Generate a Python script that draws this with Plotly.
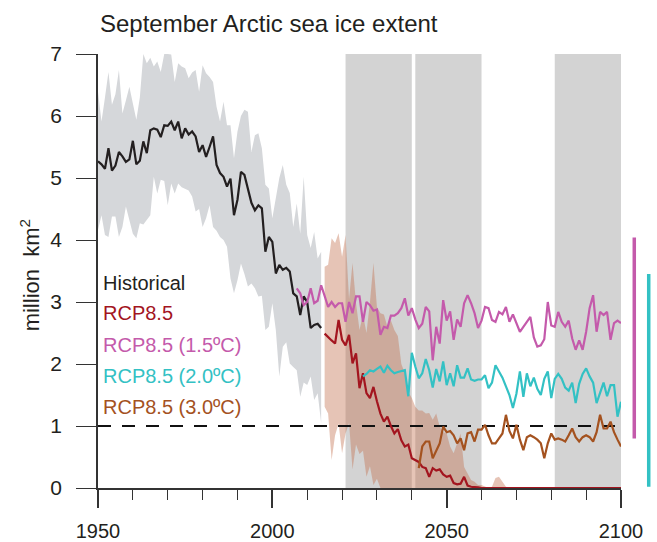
import plotly.graph_objects as go

# ---------------- data ----------------
hist_start = 1950
hist_mean = [5.27, 5.22, 5.15, 5.48, 5.12, 5.20, 5.42, 5.35, 5.26, 5.30,
             5.60, 5.22, 5.28, 5.59, 5.40, 5.77, 5.80, 5.78, 5.66, 5.85,
             5.84, 5.91, 5.77, 5.91, 5.64, 5.80, 5.70, 5.75, 5.67, 5.42,
             5.53, 5.34, 5.50, 5.67, 5.21, 5.08, 5.02, 4.86, 4.99, 4.40,
             4.65, 5.10, 5.05, 4.80, 4.60, 4.48, 4.56, 4.51, 3.81, 4.05,
             3.97, 3.46, 3.60, 3.52, 3.55, 3.49, 3.14, 3.09, 2.79, 3.09,
             3.00, 2.58, 2.63, 2.65, 2.58]
hist_upper = [6.39, 5.91, 6.30, 6.71, 6.18, 6.35, 6.74, 6.04, 6.25, 6.47,
              6.20, 5.94, 6.30, 7.00, 6.85, 6.94, 6.80, 6.88, 6.71, 7.00,
              7.00, 6.99, 6.55, 6.85, 6.80, 6.77, 6.61, 6.70, 6.74, 6.39,
              6.82, 6.69, 6.63, 6.55, 6.15, 5.91, 6.23, 5.85, 5.85, 5.32,
              5.75, 6.00, 6.10, 6.07, 5.42, 5.69, 5.72, 5.48, 4.89, 4.83,
              4.35, 4.70, 5.00, 5.21, 4.89, 4.76, 4.21, 4.59, 4.10, 5.02,
              4.08, 3.87, 4.13, 3.70, 3.81]
hist_lower = [4.16, 4.40, 4.08, 4.05, 4.38, 4.38, 4.05, 4.21, 4.54, 4.30,
              4.10, 4.03, 4.27, 4.25, 4.32, 4.40, 5.02, 4.75, 4.97, 4.95,
              4.56, 4.91, 4.75, 4.91, 4.85, 4.83, 4.80, 4.70, 4.46, 4.50,
              4.21, 4.35, 4.56, 4.21, 4.15, 4.05, 4.00, 3.89, 3.38, 3.14,
              3.35, 3.62, 3.45, 3.25, 3.30, 3.22, 3.09, 3.10, 2.55, 2.60,
              2.98, 2.55, 1.80, 2.28, 2.35, 2.01, 1.95, 1.90, 1.47, 1.70,
              1.66, 1.80, 1.42, 1.53, 1.05]

rcp_start = 2015
rcp_mean = [2.49, 2.43, 2.38, 2.33, 2.71, 2.39, 2.30, 2.47, 2.01, 2.17,
            1.61, 1.85, 1.53, 1.45, 1.63, 1.40, 1.20, 1.07, 1.15, 1.00,
            0.88, 0.95, 0.77, 0.67, 0.70, 0.48, 0.45, 0.42, 0.34, 0.32,
            0.18, 0.32, 0.28, 0.30, 0.22, 0.18, 0.20, 0.08, 0.06, 0.07,
            0.18, 0.04, 0.02, 0.02, 0.01, 0.00, 0.00, 0.00, 0.00, 0.00,
            0.00, 0.00, 0.00, 0.00, 0.00, 0.00, 0.00, 0.00, 0.00, 0.00,
            0.00, 0.00, 0.00, 0.00, 0.00, 0.00, 0.00, 0.00, 0.00, 0.00,
            0.00, 0.00, 0.00, 0.00, 0.00, 0.00, 0.00, 0.00, 0.00, 0.00,
            0.00, 0.00, 0.00, 0.00, 0.00, 0.00]
rcp_upper = [3.57, 3.60, 4.03, 3.95, 4.11, 3.73, 4.08, 3.05, 3.63, 2.98,
             2.55, 2.80, 2.50, 3.00, 3.63, 2.92, 2.82, 2.80, 2.60, 2.70,
             2.55, 2.45, 2.00, 1.85, 1.55, 1.45, 1.31, 1.25, 1.25, 1.20,
             1.21, 1.10, 1.20, 0.99, 0.90, 0.88, 0.67, 0.56, 0.72, 0.88,
             0.34, 0.24, 0.13, 0.10, 0.05, 0.05, 0.02, 0.00, 0.02, 0.16,
             0.18, 0.10, 0.02, 0.00]
rcp_lower = [1.31, 1.20, 0.45, 0.85, 1.04, 0.56, 0.88, 1.05, 0.30, 0.70,
             0.55, 0.60, 0.18, 0.35, 0.05, 0.15, 0.00, 0.00, 0.00, 0.00,
             0.00, 0.00, 0.00, 0.00, 0.00, 0.00, 0.00, 0.00, 0.00, 0.00,
             0.00, 0.00, 0.00, 0.00, 0.00, 0.00, 0.00, 0.00, 0.00, 0.00,
             0.00, 0.00, 0.00, 0.00, 0.00, 0.00, 0.00, 0.00, 0.00, 0.00,
             0.00, 0.00, 0.00, 0.00]

s15_start = 2007
s15 = [3.22, 3.14, 2.95, 3.00, 3.22, 2.98, 3.02, 3.27, 3.10, 2.92,
       3.00, 2.92, 2.98, 2.98, 2.68, 3.00, 2.82, 3.09, 3.09, 2.68,
       3.00, 2.95, 2.86, 2.88, 2.47, 2.60, 2.58, 2.78, 2.78, 2.82,
       2.90, 3.06, 2.78, 2.90, 2.72, 2.58, 2.65, 2.92, 2.85, 2.06,
       2.60, 2.33, 3.03, 2.70, 2.85, 2.39, 2.72, 2.60, 2.98, 3.11,
       2.98, 2.82, 2.58, 2.70, 2.92, 2.90, 2.71, 2.68, 2.84, 2.80,
       2.92, 2.68, 2.80, 2.65, 2.52, 2.60, 2.68, 2.76, 2.43, 2.28,
       2.30, 2.40, 3.00, 2.62, 2.60, 2.84, 2.68, 2.60, 2.70, 2.41,
       2.23, 2.38, 2.23, 2.52, 2.90, 3.11, 2.52, 2.84, 2.79, 2.84,
       2.39, 2.66, 2.70, 2.66]

s20_start = 2026
s20 = [1.80, 1.84, 1.90, 1.88, 1.92, 1.96, 1.86, 1.97, 1.90, 1.85,
       1.87, 1.88, 1.90, 1.48, 2.18, 1.96, 1.77, 1.85, 2.08, 1.90,
       1.62, 1.92, 1.72, 2.04, 1.66, 1.85, 1.64, 1.98, 1.78, 1.78,
       1.93, 1.75, 1.73, 1.75, 1.75, 1.82, 1.61, 1.70, 1.98, 1.88,
       1.78, 1.64, 1.50, 1.29, 1.52, 1.88, 1.47, 1.85, 1.64, 1.78,
       1.60, 1.50, 1.76, 1.88, 1.45, 1.76, 1.84, 1.76, 1.62, 1.57,
       1.70, 1.37, 1.68, 1.84, 1.93, 1.80, 1.70, 1.37, 1.52, 1.70,
       1.48, 1.66, 1.66, 1.15, 1.39]

s30_start = 2042
s30 = [0.32, 0.67, 0.75, 0.75, 0.48, 0.60, 0.72, 0.99, 0.90, 0.92,
       0.85, 0.72, 0.80, 0.61, 0.88, 0.90, 0.75, 0.94, 0.94, 1.02,
       0.85, 0.72, 0.72, 0.80, 0.88, 1.18, 0.92, 0.80, 1.02, 0.78,
       0.61, 0.82, 0.85, 0.82, 0.78, 0.72, 0.48, 0.72, 0.88, 0.78,
       0.80, 0.78, 0.75, 0.85, 0.96, 0.82, 0.75, 0.82, 0.85, 0.82,
       0.75, 0.90, 1.18, 0.96, 0.96, 1.07, 0.90, 0.78, 0.67]

band_starts = [2021, 2041, 2081]
band_ends = [2040, 2060, 2100]
threshold = 1.0

# right-hand range bars (million km2)
bar_15 = [0.80, 4.04]
bar_20 = [0.02, 3.45]

legend_labels = ["Historical", "RCP8.5", "RCP8.5 (1.5ºC)", "RCP8.5 (2.0ºC)", "RCP8.5 (3.0ºC)"]
legend_y = [3.31, 2.82, 2.31, 1.80, 1.30]

C_HIST = "#231f20"
C_RCP = "#a3151f"
C_15 = "#c45aab"
C_20 = "#33c1c4"
C_30 = "#a4521f"
legend_colors = [C_HIST, C_RCP, C_15, C_20, C_30]

FONT = "Liberation Sans, Arial, sans-serif"
YMIN, YMAX = 0, 7


def yrs(start, vals):
    return list(range(start, start + len(vals)))


fig = go.Figure()

# historical envelope
hy = yrs(hist_start, hist_mean)
fig.add_trace(go.Scatter(x=hy + hy[::-1], y=hist_upper + hist_lower[::-1],
                         fill="toself", fillcolor="#d5d7da", line=dict(width=0),
                         mode="lines", hoverinfo="skip", showlegend=False))
# rcp envelope
ry = yrs(rcp_start, rcp_upper)
fig.add_trace(go.Scatter(x=ry + ry[::-1], y=rcp_upper + rcp_lower[::-1],
                         fill="toself", fillcolor="rgba(195,115,80,0.42)", line=dict(width=0),
                         mode="lines", hoverinfo="skip", showlegend=False))

# threshold
fig.add_trace(go.Scatter(x=[1950, 2100], y=[threshold, threshold], mode="lines",
                         line=dict(color="#111111", width=2, dash="13px,11px"),
                         showlegend=False, hoverinfo="skip"))

for start, vals, col in [(hist_start, hist_mean, C_HIST), (s15_start, s15, C_15),
                         (rcp_start, rcp_mean, C_RCP), (s20_start, s20, C_20),
                         (s30_start, s30, C_30)]:
    fig.add_trace(go.Scatter(x=yrs(start, vals), y=vals, mode="lines",
                             line=dict(color=col, width=2.2), showlegend=False))

shapes = []
for a, b in zip(band_starts, band_ends):
    shapes.append(dict(type="rect", xref="x", yref="y", x0=a, x1=b, y0=YMIN, y1=YMAX,
                       fillcolor="#d3d3d3", line=dict(width=0), layer="below"))


def py(v):
    return (v - YMIN) / (YMAX - YMIN)


shapes.append(dict(type="line", xref="paper", yref="paper", x0=1.0254, x1=1.0254,
                   y0=py(bar_15[0]), y1=py(bar_15[1]), line=dict(color=C_15, width=3.5)))
shapes.append(dict(type="line", xref="paper", yref="paper", x0=1.0530, x1=1.0530,
                   y0=py(bar_20[0]), y1=py(bar_20[1]), line=dict(color=C_20, width=3.5)))

annotations = []
for lab, yv, col in zip(legend_labels, legend_y, legend_colors):
    annotations.append(dict(text=lab, x=0.006, xref="paper", y=yv, yref="y",
                            xanchor="left", yanchor="middle", showarrow=False,
                            font=dict(family=FONT, size=20, color=col)))
annotations.append(dict(text="September Arctic sea ice extent", x=0.0, xref="paper",
                        y=1.071, yref="paper", xanchor="left", yanchor="middle",
                        showarrow=False, font=dict(family=FONT, size=24, color="#231f20")))
annotations.append(dict(text="million  km<sup>2</sup>", x=-0.13, xref="paper",
                        y=0.49, yref="paper", xanchor="center", yanchor="middle",
                        textangle=-90, showarrow=False,
                        font=dict(family=FONT, size=22, color="#231f20")))

fig.update_layout(
    width=657, height=542,
    margin=dict(l=98, r=36, t=54, b=54, autoexpand=False),
    plot_bgcolor="white", paper_bgcolor="white",
    font=dict(family=FONT, size=20, color="#231f20"),
    shapes=shapes, annotations=annotations, showlegend=False,
    hovermode=False,
    xaxis=dict(range=[1950, 2100], dtick=50, tick0=1950, ticks="outside", ticklen=18,
               tickwidth=2, tickcolor="#333333", showline=True, linecolor="#333333",
               linewidth=1.5, showgrid=False, zeroline=False, ticklabelstandoff=6,
               tickfont=dict(family=FONT, size=20, color="#231f20"),
               minor=dict(dtick=10, tick0=1950, ticks="outside", ticklen=10, tickwidth=1.3,
                          tickcolor="#333333", showgrid=False)),
    yaxis=dict(range=[YMIN, YMAX], dtick=1, ticks="outside", ticklen=20, tickwidth=1.3,
               tickcolor="#333333", showline=True, linecolor="#333333", linewidth=1.5,
               showgrid=False, zeroline=False, ticklabelstandoff=10,
               tickfont=dict(family=FONT, size=21, color="#231f20")),
)

fig.write_html("out.html", config={"displayModeBar": False},
               post_script="document.body.style.margin='0';document.body.style.padding='0';")
